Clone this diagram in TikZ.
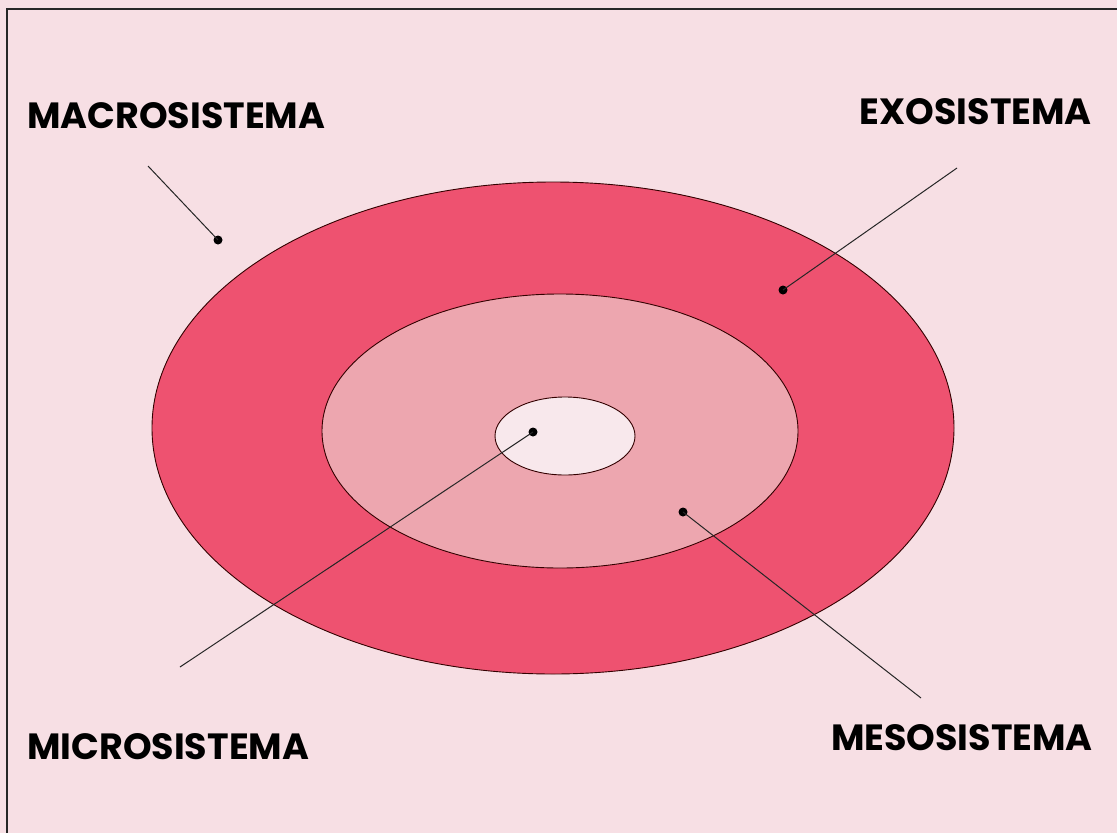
\documentclass[tikz,border=0pt]{standalone}
\usepackage{fontspec}
\setmainfont{Poppins}[UprightFont=* Bold]
\definecolor{bgpink}{RGB}{247,223,228}
\definecolor{ringout}{RGB}{238,82,112}
\definecolor{ringmid}{RGB}{237,166,175}
\definecolor{ringin}{RGB}{248,232,236}
\tikzset{
  lbl/.style={inner sep=0pt, font=\fontsize{36.5}{36.5}\selectfont, text=black},
  ring/.style={draw=black!80!red, line width=0.9pt},
  leader/.style={draw=black!85, line width=1pt},
  pin/.style={circle, fill=black, inner sep=0pt, minimum size=9pt}
}
\begin{document}
\begin{tikzpicture}[x=1pt,y=-1pt]
\useasboundingbox (0,0) rectangle (1117,833);
\fill[bgpink] (0,0) rectangle (1117,833);
\draw[line width=2.2pt, black!85] (7,833) -- (7,9) -- (1117,9);
% rings
\draw[ring, fill=ringout] (553,428) ellipse [x radius=401, y radius=246];
\draw[ring, fill=ringmid] (560,431) ellipse [x radius=238, y radius=137];
\draw[ring, fill=ringin] (565,436) ellipse [x radius=70, y radius=39];
% labels
\node[lbl, anchor=base west] (macro) at (27,128) {MACROSISTEMA};
\node[lbl, anchor=base east] (exo) at (1092,124) {EXOSISTEMA};
\node[lbl, anchor=base west] (micro) at (27,759) {MICROSISTEMA};
\node[lbl, anchor=base east] (meso) at (1093,750) {MESOSISTEMA};
% pins and leader ends
\node[pin] (pmacro) at (218,240) {};
\node[pin] (pexo) at (783,290) {};
\node[pin] (pmicro) at (533,432) {};
\node[pin] (pmeso) at (683,512) {};
\coordinate (emacro) at (148,166);
\coordinate (eexo) at (957,168);
\coordinate (emicro) at (180,667);
\coordinate (emeso) at (921,698);
\draw[leader] (emacro) -- (pmacro.center);
\draw[leader] (eexo) -- (pexo.center);
\draw[leader] (emicro) -- (pmicro.center);
\draw[leader] (emeso) -- (pmeso.center);
\end{tikzpicture}
\end{document}
